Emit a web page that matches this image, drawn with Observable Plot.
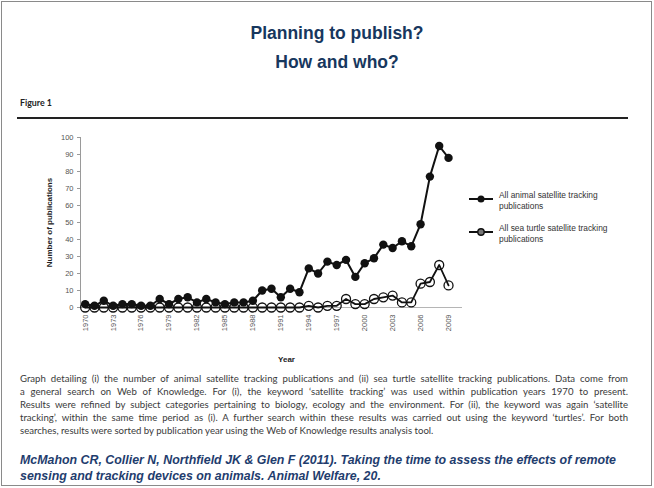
<!DOCTYPE html>
<html>
<head>
<meta charset="utf-8">
<script src="https://cdn.jsdelivr.net/npm/d3@7"></script>
<script src="https://cdn.jsdelivr.net/npm/@observablehq/plot@0.6"></script>
<style>
  html, body { margin:0; padding:0; background:#fff; }
  body { width:654px; height:488px; position:relative; overflow:hidden; font-family: Arial, "Liberation Sans", sans-serif; }
  .frame { position:absolute; left:1px; top:1px; width:651px; height:485px; border:1px solid #8a8a8a; box-sizing:border-box; }
  .title { position:absolute; left:0; width:674px; text-align:center; color:#17375e; font-weight:bold; font-size:17.5px; line-height:18px; }
  .fig { position:absolute; left:20px; top:97px; font-family: Lato, "Open Sans", sans-serif; font-weight:bold; font-size:8.8px; color:#222; }
  .rule { position:absolute; left:17px; top:117px; width:611px; height:2px; background:#222; }
  #chart { position:absolute; left:0; top:125px; }
  .legend { position:absolute; left:468px; font-size:8.4px; color:#333; line-height:11px; }
  .legend svg { position:absolute; left:0; }
  .legend .lt { position:absolute; left:31px; white-space:nowrap; }
  .caption { position:absolute; left:20px; top:372px; width:608px; font-family: Lato, "Open Sans", sans-serif; font-size:9.6px; line-height:13px; color:#3a3a3a; }
  .caption div { text-align:justify; text-align-last:justify; white-space:nowrap; }
  .caption div.last { text-align-last:left; }
  .cite { position:absolute; left:20px; top:453px; width:630px; color:#1f3d6e; font-weight:bold; font-style:italic; font-size:12.4px; line-height:15.5px; }
  g[aria-label="y-axis label"] text { font-weight:bold; font-size:8px; fill:#222; }
</style>
</head>
<body>
<div class="frame"></div>
<div class="title" style="top:24px;">Planning to publish?</div>
<div class="title" style="top:53px;">How and who?</div>
<div class="fig">Figure 1</div>
<div class="rule"></div>
<div id="chart"></div>

<div class="legend" style="top:190px;">
  <svg width="28" height="12" style="top:3px;"><line x1="1" y1="6" x2="25" y2="6" stroke="#111" stroke-width="2"/><circle cx="13" cy="6" r="3.5" fill="#111"/></svg>
  <div class="lt">All animal satellite tracking<br>publications</div>
</div>
<div class="legend" style="top:223px;">
  <svg width="28" height="12" style="top:3px;"><line x1="1" y1="6" x2="25" y2="6" stroke="#111" stroke-width="2"/><circle cx="13" cy="6" r="3.2" fill="#777" stroke="#111" stroke-width="1.4"/></svg>
  <div class="lt">All sea turtle satellite tracking<br>publications</div>
</div>

<div class="caption">
  <div>Graph detailing (i) the number of animal satellite tracking publications and (ii) sea turtle satellite tracking publications. Data come from</div>
  <div>a general search on Web of Knowledge. For (i), the keyword ‘satellite tracking’ was used within publication years 1970 to present.</div>
  <div>Results were refined by subject categories pertaining to biology, ecology and the environment. For (ii), the keyword was again ‘satellite</div>
  <div>tracking’, within the same time period as (i). A further search within these results was carried out using the keyword ‘turtles’. For both</div>
  <div class="last">searches, results were sorted by publication year using the Web of Knowledge results analysis tool.</div>
</div>

<div class="cite">McMahon CR, Collier N, Northfield JK &amp; Glen F (2011). Taking the time to assess the effects of remote<br>sensing and tracking devices on animals. Animal Welfare, 20.</div>

<script>
// ---- data ----
const years = [1970,1971,1972,1973,1974,1975,1976,1977,1978,1979,
               1980,1981,1982,1983,1984,1985,1986,1987,1988,1989,
               1990,1991,1992,1993,1994,1995,1996,1997,1998,1999,
               2000,2001,2002,2003,2004,2005,2006,2007,2008,2009];
const allAnimal = [2,1,4,1,2,2,1,1,5,2,
                   5,6,3,5,3,2,3,3,4,10,
                   11,6,11,9,23,20,27,25,28,18,
                   26,29,37,35,39,36,49,77,95,88];
const seaTurtle = [0,0,0,0,0,0,0,0,0,0,
                   0,0,0,0,0,0,0,0,0,0,
                   0,0,0,0,1,0,1,1,5,2,
                   2,5,6,7,3,3,14,15,25,13];
const xTickYears = [1970,1973,1976,1979,1982,1985,1988,1991,1994,1997,2000,2003,2006,2009];
const yTickValues = [0,10,20,30,40,50,60,70,80,90,100];
const yLabel = "Number of publications";
const xLabel = "Year";

const rowsA = years.map((yr, i) => ({year: yr, n: allAnimal[i]}));
const rowsT = years.map((yr, i) => ({year: yr, n: seaTurtle[i]}));

const chart = Plot.plot({
  width: 654,
  height: 240,
  marginLeft: 80,
  marginRight: 192,
  marginTop: 12,
  marginBottom: 58,
  style: {fontFamily: "Arial, 'Liberation Sans', sans-serif", fontSize: "7.5px", color: "#555", background: "transparent", overflow: "visible"},
  x: {domain: [1969.5, 2010.5]},
  y: {domain: [0, 100]},
  marks: [
    Plot.ruleY([0], {stroke: "#b5b5b5", strokeWidth: 1}),
    Plot.ruleX([1969.5], {y1: 0, y2: 100, stroke: "#9a9a9a", strokeWidth: 1}),
    Plot.axisY({ticks: yTickValues, tickSize: 3, tickPadding: 4, stroke: "#9a9a9a",
                label: yLabel, labelAnchor: "center", labelArrow: "none", labelOffset: 34}),
    Plot.axisX({ticks: xTickYears, tickFormat: d => String(d), tickSize: 0, tickPadding: 7, tickRotate: -90, label: null}),
    Plot.text([xLabel], {text: d => d, frameAnchor: "bottom", dx: 15, dy: 54, fontWeight: "bold", fontSize: 8, fill: "#222"}),
    Plot.line(rowsT, {x: "year", y: "n", stroke: "#111", strokeWidth: 1.8}),
    Plot.dot(rowsT, {x: "year", y: "n", r: 4.5, stroke: "#111", strokeWidth: 1.3, fill: "none"}),
    Plot.line(rowsA, {x: "year", y: "n", stroke: "#111", strokeWidth: 2}),
    Plot.dot(rowsA, {x: "year", y: "n", r: 4.2, fill: "#111", stroke: "none"})
  ]
});
document.getElementById("chart").appendChild(chart);
</script>
</body>
</html>
